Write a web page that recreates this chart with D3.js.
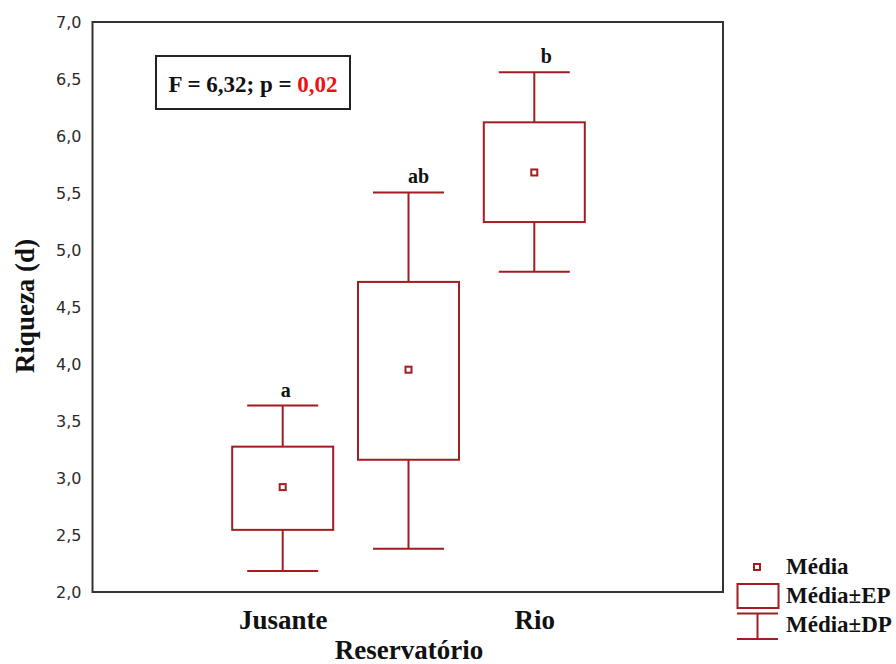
<!DOCTYPE html>
<html>
<head>
<meta charset="utf-8">
<script src="https://cdn.jsdelivr.net/npm/d3@7"></script>
<style>
  html, body { margin: 0; padding: 0; background: #fff; }
  svg { display: block; }
</style>
</head>
<body>
<svg id="chart" width="896" height="664"></svg>
<script>
// ---- data ----
const categories = ["Jusante", "Reservatório", "Rio"];
const meanValues = [2.92, 3.95, 5.68];
const seLow = [2.545, 3.16, 5.245];
const seHigh = [3.275, 4.72, 6.12];
const sdLow = [2.185, 2.38, 4.81];
const sdHigh = [3.635, 5.505, 6.56];
const groupLetters = ["a", "ab", "b"];
const yTickValues = [2.0, 2.5, 3.0, 3.5, 4.0, 4.5, 5.0, 5.5, 6.0, 6.5, 7.0];
const yTickLabels = ["2,0", "2,5", "3,0", "3,5", "4,0", "4,5", "5,0", "5,5", "6,0", "6,5", "7,0"];
const statText = "F = 6,32; p = ";
const statP = "0,02";
const legendLabels = ["Média", "Média±EP", "Média±DP"];

// ---- layout ----
const RED = "#a11d22";
const FRAME = "#333";
const serif = "'Liberation Serif', 'Times New Roman', serif";
const sans = "'DejaVu Sans', Verdana, sans-serif";
const plot = { left: 92.5, right: 723, top: 22, bottom: 592 };
const letterDx = [3, 10, 12];

const svg = d3.select("#chart");

const y = d3.scaleLinear().domain([2, 7]).range([plot.bottom, plot.top]);
const x = d3.scaleLinear().domain([-1.5, 3.5]).range([94, 723]);

// frame
svg.append("rect")
  .attr("x", plot.left).attr("y", plot.top)
  .attr("width", plot.right - plot.left).attr("height", plot.bottom - plot.top)
  .attr("fill", "none").attr("stroke", FRAME).attr("stroke-width", 2);

// y axis (labels only)
const yAxis = d3.axisLeft(y)
  .tickValues(yTickValues)
  .tickFormat((d, i) => yTickLabels[i])
  .tickSize(0).tickPadding(11);
const gy = svg.append("g").attr("transform", `translate(${plot.left},0)`).call(yAxis);
gy.select(".domain").remove();
gy.selectAll("text")
  .attr("font-family", sans).attr("font-size", 16).attr("fill", "#2a2a2a");

// x axis (category labels)
const xAxis = d3.axisBottom(x)
  .tickValues(categories.map((c, i) => i))
  .tickFormat(i => categories[i])
  .tickSize(0);
const gx = svg.append("g").attr("transform", `translate(0,${plot.bottom})`).call(xAxis);
gx.select(".domain").remove();
gx.selectAll("text")
  .attr("font-family", serif).attr("font-size", 27).attr("font-weight", "bold")
  .attr("fill", "#111")
  .attr("dy", null)
  .attr("y", (d, i) => i === 1 ? 67 : 37);

// y title
svg.append("text")
  .attr("transform", `translate(34,306) rotate(-90)`)
  .attr("text-anchor", "middle")
  .attr("font-family", serif).attr("font-size", 27).attr("font-weight", "bold")
  .attr("fill", "#111")
  .text("Riqueza (d)");

// boxes
const capHalf = 35.5, boxHalf = 50.5;
const groups = svg.append("g").selectAll("g")
  .data(categories.map((c, i) => i))
  .join("g");

groups.append("line")
  .attr("x1", i => x(i)).attr("x2", i => x(i))
  .attr("y1", i => y(sdHigh[i])).attr("y2", i => y(seHigh[i]))
  .attr("stroke", RED).attr("stroke-width", 2);
groups.append("line")
  .attr("x1", i => x(i)).attr("x2", i => x(i))
  .attr("y1", i => y(seLow[i])).attr("y2", i => y(sdLow[i]))
  .attr("stroke", RED).attr("stroke-width", 2);
groups.append("line")
  .attr("x1", i => x(i) - capHalf).attr("x2", i => x(i) + capHalf)
  .attr("y1", i => y(sdHigh[i])).attr("y2", i => y(sdHigh[i]))
  .attr("stroke", RED).attr("stroke-width", 2);
groups.append("line")
  .attr("x1", i => x(i) - capHalf).attr("x2", i => x(i) + capHalf)
  .attr("y1", i => y(sdLow[i])).attr("y2", i => y(sdLow[i]))
  .attr("stroke", RED).attr("stroke-width", 2);
groups.append("rect")
  .attr("x", i => x(i) - boxHalf).attr("width", boxHalf * 2)
  .attr("y", i => y(seHigh[i])).attr("height", i => y(seLow[i]) - y(seHigh[i]))
  .attr("fill", "none").attr("stroke", RED).attr("stroke-width", 2);
groups.append("rect")
  .attr("x", i => x(i) - 3).attr("y", i => y(meanValues[i]) - 3)
  .attr("width", 6).attr("height", 6)
  .attr("fill", "#fff").attr("stroke", RED).attr("stroke-width", 2);
groups.append("text")
  .attr("x", i => x(i) + letterDx[i]).attr("y", i => y(sdHigh[i]) - 9)
  .attr("text-anchor", "middle")
  .attr("font-family", serif).attr("font-size", 20).attr("font-weight", "bold")
  .attr("fill", "#111")
  .text(i => groupLetters[i]);

// stat box
svg.append("rect")
  .attr("x", 156).attr("y", 56).attr("width", 194).attr("height", 53)
  .attr("fill", "#fff").attr("stroke", "#222").attr("stroke-width", 2);
const st = svg.append("text")
  .attr("x", 253).attr("y", 92).attr("text-anchor", "middle")
  .attr("font-family", serif).attr("font-size", 23).attr("font-weight", "bold")
  .attr("fill", "#111");
st.append("tspan").text(statText);
st.append("tspan").attr("fill", "#ee1111").text(statP);

// legend
const lg = svg.append("g");
lg.append("rect").attr("x", 754).attr("y", 564).attr("width", 6).attr("height", 6)
  .attr("fill", "#fff").attr("stroke", RED).attr("stroke-width", 2);
lg.append("rect").attr("x", 737.5).attr("y", 584).attr("width", 41).attr("height", 24)
  .attr("fill", "none").attr("stroke", RED).attr("stroke-width", 2);
lg.append("line").attr("x1", 737).attr("x2", 778).attr("y1", 613.5).attr("y2", 613.5)
  .attr("stroke", RED).attr("stroke-width", 2);
lg.append("line").attr("x1", 737).attr("x2", 778).attr("y1", 639).attr("y2", 639)
  .attr("stroke", RED).attr("stroke-width", 2);
lg.append("line").attr("x1", 757.5).attr("x2", 757.5).attr("y1", 613.5).attr("y2", 639)
  .attr("stroke", RED).attr("stroke-width", 2);
lg.selectAll("text.lbl").data(legendLabels).join("text")
  .attr("class", "lbl")
  .attr("x", 786).attr("y", (d, i) => [574, 603, 632][i])
  .attr("font-family", serif).attr("font-size", 23).attr("font-weight", "bold")
  .attr("fill", "#111")
  .text(d => d);
</script>
</body>
</html>
